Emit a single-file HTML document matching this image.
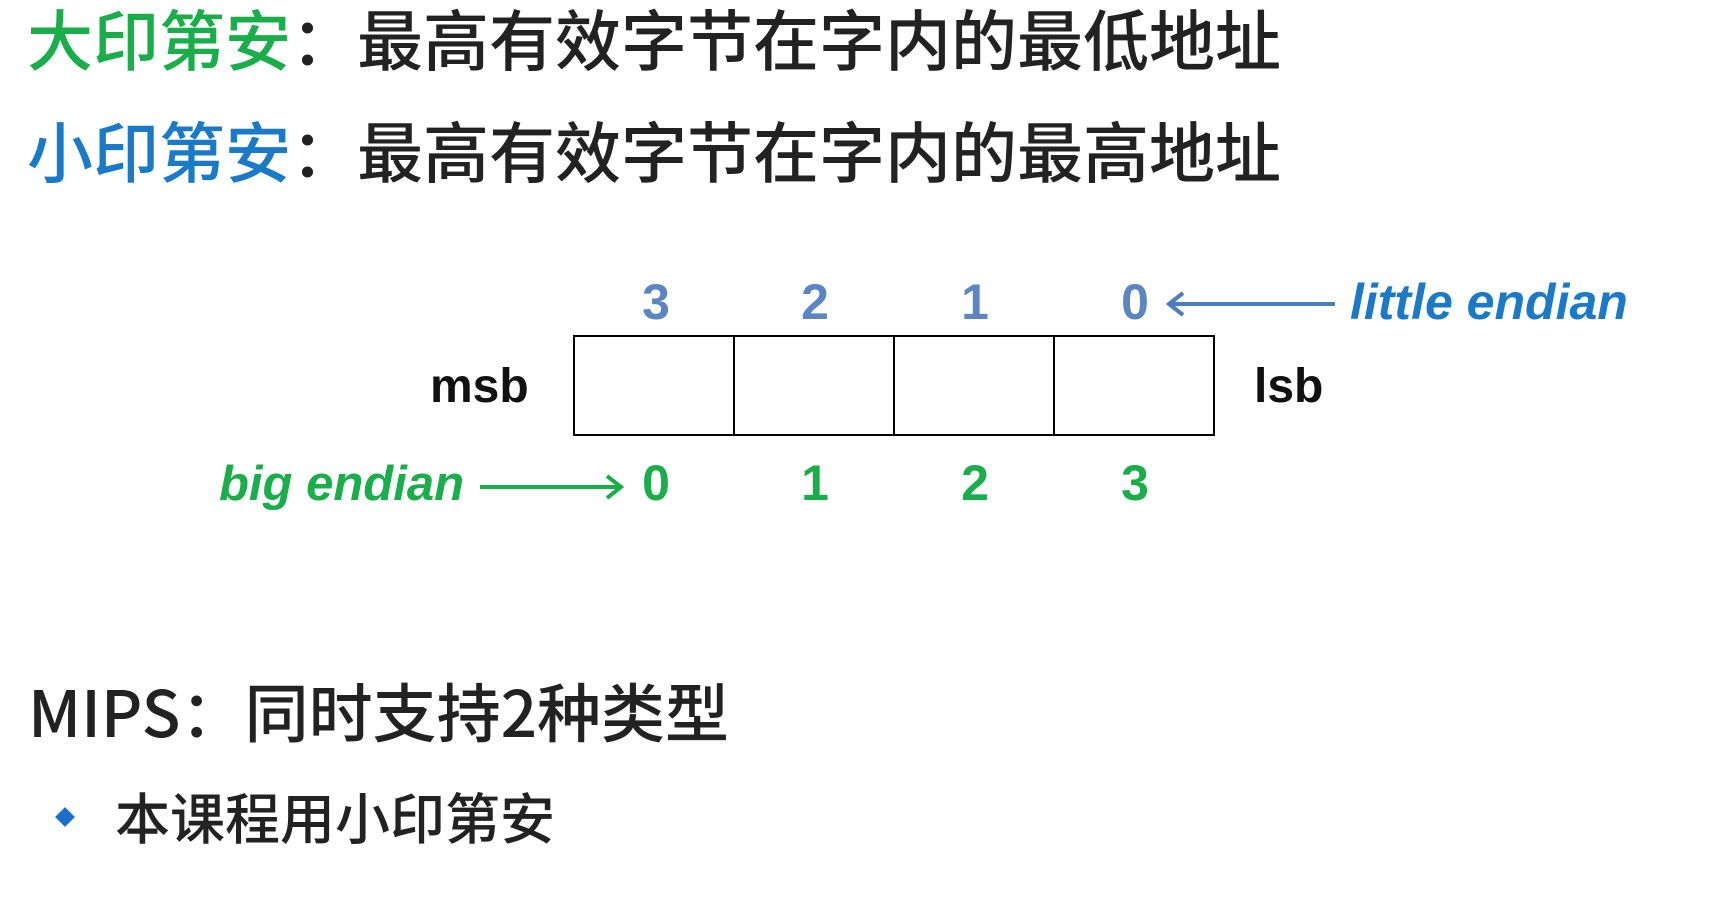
<!DOCTYPE html>
<html><head><meta charset="utf-8"><style>
body{margin:0;width:1721px;height:900px;background:#fff;position:relative;overflow:hidden;font-family:"Liberation Sans","Noto Sans CJK SC",sans-serif}
.t{position:absolute;white-space:nowrap}
.cjk{font-family:"Noto Sans CJK SC","WenQuanYi Zen Hei",sans-serif;font-size:66px;line-height:66px;color:#222;font-weight:500}
.num{font-weight:bold;font-size:50px;line-height:50px;width:60px;text-align:center}
</style></head><body>
<div class="t cjk" style="left:27px;top:4px"><span style="color:#1aae4a">大印第安</span>：最高有效字节在字内的最低地址</div>
<div class="t cjk" style="left:27px;top:116px"><span style="color:#1a7ac8">小印第安</span>：最高有效字节在字内的最高地址</div>

<svg class="t" style="left:0;top:0" width="1721" height="900">
<rect x="574" y="336" width="640" height="99" fill="none" stroke="#000" stroke-width="2"/>
<line x1="734" y1="336" x2="734" y2="435" stroke="#000" stroke-width="2"/>
<line x1="894" y1="336" x2="894" y2="435" stroke="#000" stroke-width="2"/>
<line x1="1054" y1="336" x2="1054" y2="435" stroke="#000" stroke-width="2"/>
<line x1="1170" y1="304" x2="1335" y2="304" stroke="#4a7cc0" stroke-width="4"/>
<polyline points="1183,293 1169,304 1183,315" fill="none" stroke="#4a7cc0" stroke-width="4"/>
<line x1="480" y1="487" x2="620" y2="487" stroke="#1aae4a" stroke-width="4"/>
<polyline points="607,476 621,487 607,498" fill="none" stroke="#1aae4a" stroke-width="4"/>
</svg>

<div class="t num" style="left:626px;top:277px;color:#5b86c2">3</div>
<div class="t num" style="left:785px;top:277px;color:#5b86c2">2</div>
<div class="t num" style="left:945px;top:277px;color:#5b86c2">1</div>
<div class="t num" style="left:1105px;top:277px;color:#5b86c2">0</div>
<div class="t" style="left:1350px;top:277px;font-size:50px;line-height:50px;font-weight:bold;font-style:italic;color:#1a7ac8">little endian</div>

<div class="t" style="left:430px;top:362px;font-size:48px;line-height:50px;font-weight:bold;color:#111">msb</div>
<div class="t" style="left:1254px;top:362px;font-size:48px;line-height:50px;font-weight:bold;color:#111">lsb</div>

<div class="t" style="left:219px;top:459px;font-size:49px;line-height:50px;font-weight:bold;font-style:italic;color:#1aae4a">big endian</div>
<div class="t num" style="left:626px;top:458px;color:#1aae4a">0</div>
<div class="t num" style="left:785px;top:458px;color:#1aae4a">1</div>
<div class="t num" style="left:945px;top:458px;color:#1aae4a">2</div>
<div class="t num" style="left:1105px;top:458px;color:#1aae4a">3</div>

<div class="t cjk" style="left:28px;top:678px;font-size:64px;line-height:64px">MIPS：同时支持2种类型</div>
<div class="t" style="left:58px;top:810px;width:14px;height:14px;background:#1a6fc8;transform:rotate(45deg)"></div>
<div class="t cjk" style="left:115px;top:788px;font-size:55px;line-height:55px">本课程用小印第安</div>
</body></html>
